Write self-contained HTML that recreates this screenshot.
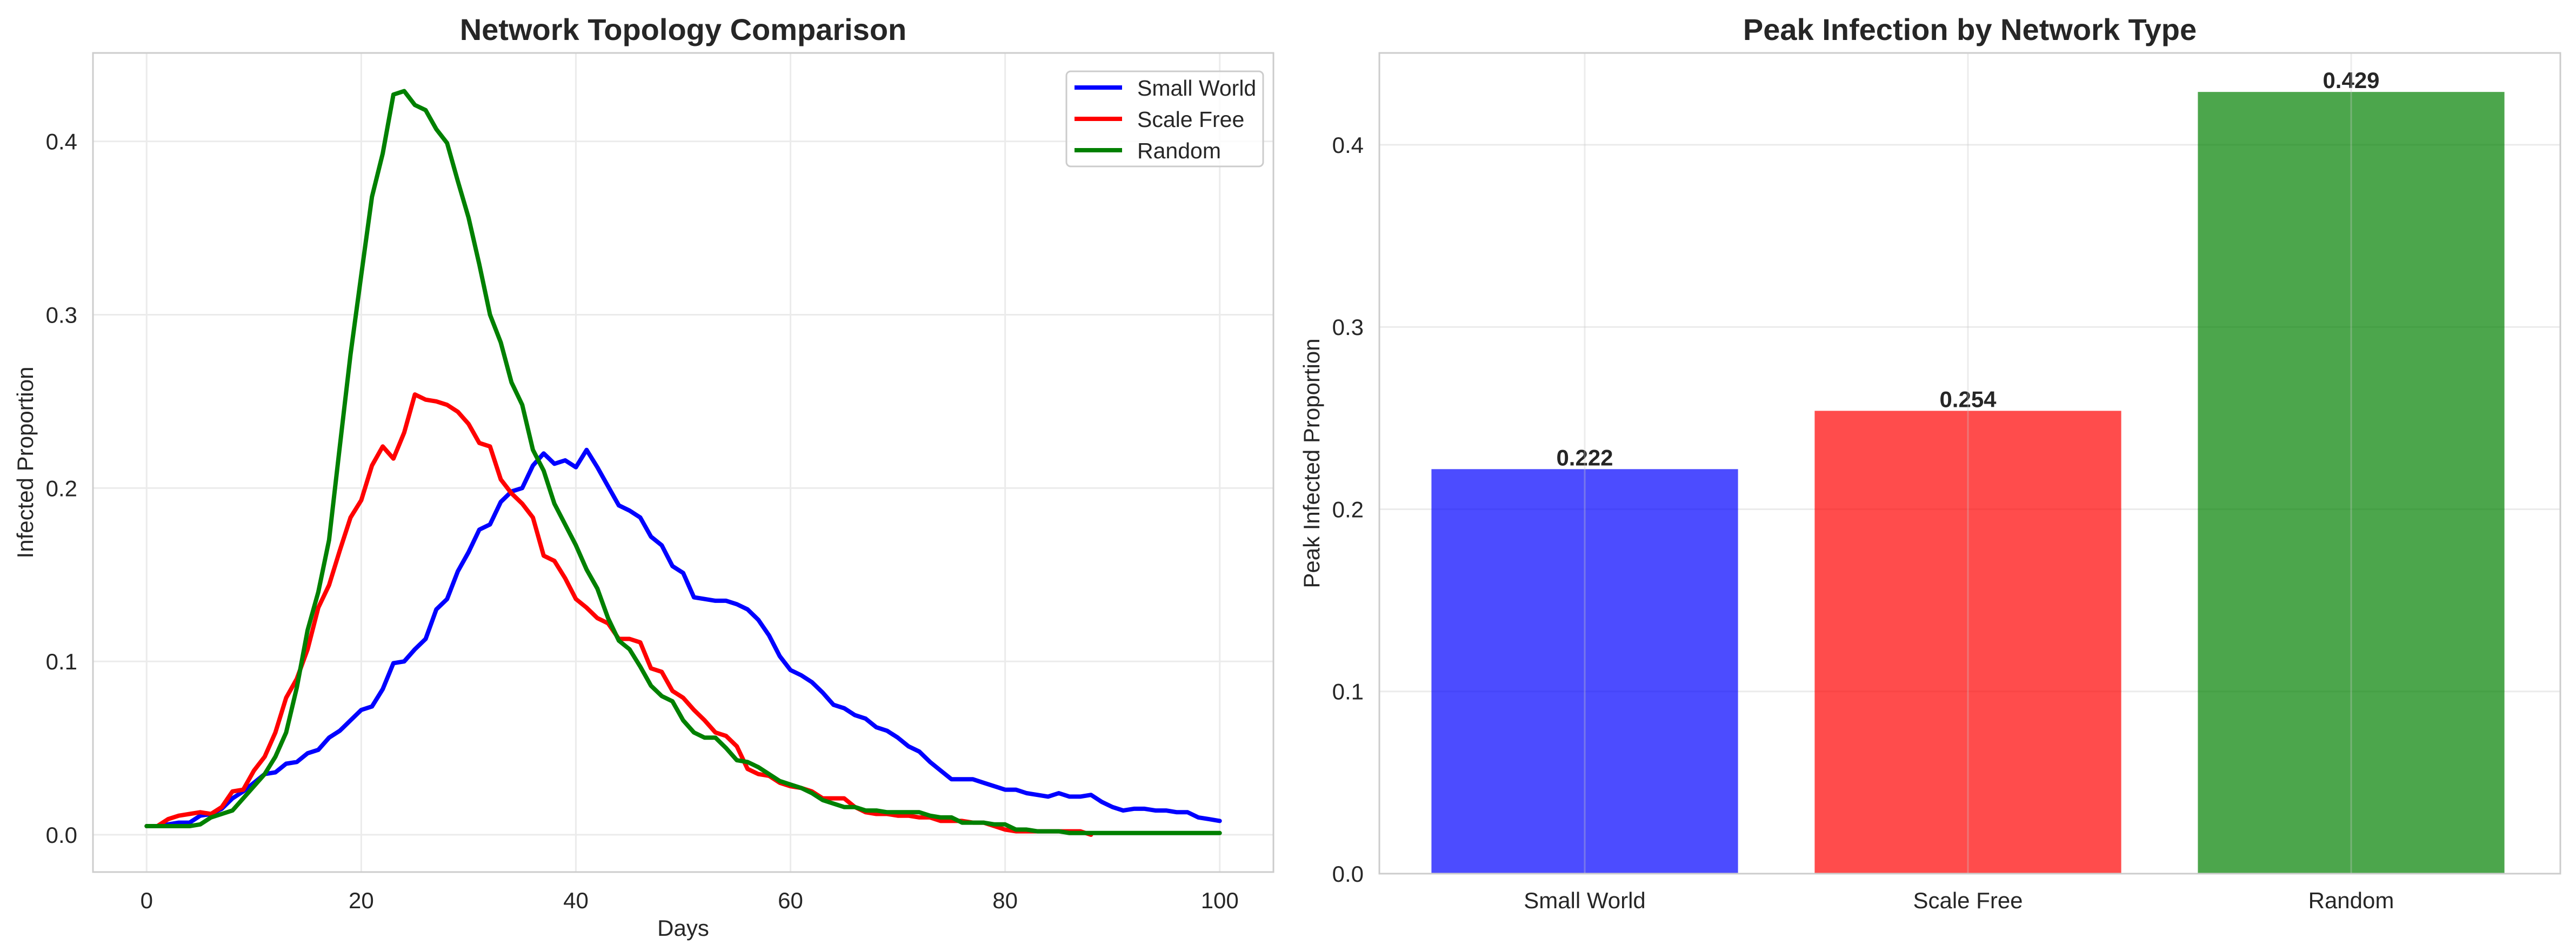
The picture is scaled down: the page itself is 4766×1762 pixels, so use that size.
<!DOCTYPE html>
<html><head><meta charset="utf-8"><style>html,body{margin:0;padding:0;background:#fff}svg{display:block}text{font-family:"Liberation Sans",Arial,sans-serif;fill:#262626}</style></head>
<body>
<svg id="fig" width="4766" height="1762" viewBox="0 0 4766 1762" xmlns="http://www.w3.org/2000/svg">
<rect width="4766" height="1762" fill="#fff"/>
<g id="left"></g>
<g id="right"></g>
</svg>
<script>
const days = Array.from({length:101},(_,i)=>i);
const smallWorld = [.005,.005,.006,.007,.007,.011,.012,.015,.021,.025,.030,.035,.036,.041,.042,.047,.049,.056,.060,.066,.072,.074,.084,.099,.100,.107,.113,.130,.136,.152,.163,.176,.179,.192,.198,.200,.213,.220,.214,.216,.212,.222,.212,.201,.190,.187,.183,.172,.167,.155,.151,.137,.136,.135,.135,.133,.130,.124,.115,.103,.095,.092,.088,.082,.075,.073,.069,.067,.062,.060,.056,.051,.048,.042,.037,.032,.032,.032,.030,.028,.026,.026,.024,.023,.022,.024,.022,.022,.023,.019,.016,.014,.015,.015,.014,.014,.013,.013,.010,.009,.008];
const scaleFree = [.005,.005,.009,.011,.012,.013,.012,.016,.025,.026,.037,.045,.059,.079,.090,.107,.131,.144,.164,.183,.193,.213,.224,.217,.232,.254,.251,.250,.248,.244,.237,.226,.224,.205,.197,.191,.183,.161,.158,.148,.136,.131,.125,.122,.113,.113,.111,.096,.094,.083,.079,.072,.066,.059,.057,.051,.038,.035,.034,.030,.028,.027,.025,.021,.021,.021,.016,.013,.012,.012,.011,.011,.010,.010,.008,.008,.008,.007,.007,.005,.003,.002,.002,.002,.002,.002,.002,.002,.000];
const randomNet = [.005,.005,.005,.005,.005,.006,.010,.012,.014,.021,.028,.035,.045,.059,.085,.118,.140,.170,.224,.277,.323,.368,.393,.427,.429,.421,.418,.407,.399,.377,.356,.329,.300,.284,.261,.248,.222,.210,.191,.179,.167,.153,.142,.125,.112,.107,.097,.086,.080,.077,.066,.059,.056,.056,.050,.043,.042,.039,.035,.031,.029,.027,.024,.020,.018,.016,.016,.014,.014,.013,.013,.013,.013,.011,.010,.010,.007,.007,.007,.006,.006,.003,.003,.002,.002,.002,.001,.001,.001,.001,.001,.001,.001,.001,.001,.001,.001,.001,.001,.001,.001];
const xTicks = [0,20,40,60,80,100];
const yTicksL = [0.0,0.1,0.2,0.3,0.4];
const categories = ["Small World","Scale Free","Random"];
const peakValues = [0.222,0.254,0.429];
const yTicksR = [0.0,0.1,0.2,0.3,0.4];

const NS="http://www.w3.org/2000/svg";
function mk(parent,tag,attrs,text){const e=document.createElementNS(NS,tag);for(const k in attrs)e.setAttribute(k,attrs[k]);if(text!==undefined)e.textContent=text;parent.appendChild(e);return e;}

// LEFT
const L=document.getElementById('left');
const lx0=172,lx1=2356,ly0=98,ly1=1614;
const xL=d=>lx0+(d+5)/110*(lx1-lx0);
const yL=v=>ly1-(v+0.0215)/(0.451+0.0215)*(ly1-ly0);
xTicks.forEach(t=>{
  const g=mk(L,'line',{x1:xL(t),x2:xL(t),y1:ly0,y2:ly1,stroke:'#ebebeb','stroke-width':3});
  
  
  const tx=mk(L,'text',{x:xL(t),y:1681,'font-size':42,'text-anchor':'middle'},String(t));
  
  
});
yTicksL.forEach(t=>{
  const g=mk(L,'line',{x1:lx0,x2:lx1,y1:yL(t),y2:yL(t),stroke:'#ebebeb','stroke-width':3});
  
  
  const tx=mk(L,'text',{x:143,y:yL(t)+15,'font-size':42,'text-anchor':'end'},t.toFixed(1));
  
  
});
const series=[[smallWorld,'#0000ff','small-world-line'],[scaleFree,'#ff0000','scale-free-line'],[randomNet,'#008000','random-line']];
series.forEach(([arr,c,n])=>{
  const pts=arr.map((v,i)=>xL(days[i]).toFixed(1)+','+yL(v).toFixed(1)).join(' ');
  const p=mk(L,'polyline',{points:pts,fill:'none',stroke:c,'stroke-width':8,'stroke-linejoin':'round','stroke-linecap':'round'});
  
  
});
let fr=mk(L,'rect',{x:lx0,y:ly0,width:lx1-lx0,height:ly1-ly0,fill:'none',stroke:'#cccccc','stroke-width':3});


let tt=mk(L,'text',{x:(lx0+lx1)/2,y:74,'font-size':56,'font-weight':'bold','text-anchor':'middle'},'Network Topology Comparison');


tt=mk(L,'text',{x:(lx0+lx1)/2,y:1732,'font-size':42,'text-anchor':'middle'},'Days');


tt=mk(L,'text',{x:0,y:0,'font-size':42,'text-anchor':'middle',transform:`translate(61,${(ly0+ly1)/2}) rotate(-90)`},'Infected Proportion');


// legend
const lg=mk(L,'g',{});


mk(lg,'rect',{x:1973,y:132,width:364,height:176,rx:8,fill:'#fff','fill-opacity':0.8,stroke:'#cccccc','stroke-width':3});
const names=['Small World','Scale Free','Random'];
series.forEach(([arr,c],i)=>{
  const y=162+i*58;
  const e=mk(lg,'g',{});
  
  
  mk(e,'line',{x1:1988,x2:2076,y1:y,y2:y,stroke:c,'stroke-width':8});
  mk(e,'text',{x:2104,y:y+15,'font-size':41},names[i]);
});

// RIGHT
const R=document.getElementById('right');
const rx0=2552,rx1=4737,ry0=98,ry1=1617;
const cx0=2932,unit=709;
const xR=i=>cx0+i*unit;
const yR=v=>ry1-v/0.4504*(ry1-ry0);
yTicksR.forEach(t=>{
  const g=mk(R,'line',{x1:rx0,x2:rx1,y1:yR(t),y2:yR(t),stroke:'#ebebeb','stroke-width':3});
  
  
  const tx=mk(R,'text',{x:2523,y:yR(t)+15,'font-size':42,'text-anchor':'end'},t.toFixed(1));
  
  
});
const colors=['rgba(0,0,255,0.7)','rgba(255,0,0,0.7)','rgba(0,128,0,0.7)'];
categories.forEach((c,i)=>{
  const bw=0.8*unit, top=yR(peakValues[i]);
  const b=mk(R,'rect',{x:xR(i)-bw/2,y:top,width:bw,height:yR(0)-top,fill:colors[i]});
  
  
  const v=mk(R,'text',{x:xR(i),y:top-7,'font-size':42,'font-weight':'bold','text-anchor':'middle'},peakValues[i].toFixed(3));
  
  
  const l=mk(R,'text',{x:xR(i),y:1681,'font-size':42,'text-anchor':'middle'},c);
  
  
  const g=mk(R,'line',{x1:xR(i),x2:xR(i),y1:ry0,y2:ry1,stroke:'rgba(200,200,200,0.35)','stroke-width':3});
  
  
});
fr=mk(R,'rect',{x:rx0,y:ry0,width:rx1-rx0,height:ry1-ry0,fill:'none',stroke:'#cccccc','stroke-width':3});


tt=mk(R,'text',{x:(rx0+rx1)/2,y:74,'font-size':56,'font-weight':'bold','text-anchor':'middle'},'Peak Infection by Network Type');


tt=mk(R,'text',{x:0,y:0,'font-size':42,'text-anchor':'middle',transform:`translate(2441,${(ry0+ry1)/2}) rotate(-90)`},'Peak Infected Proportion');


</script>
</body></html>
